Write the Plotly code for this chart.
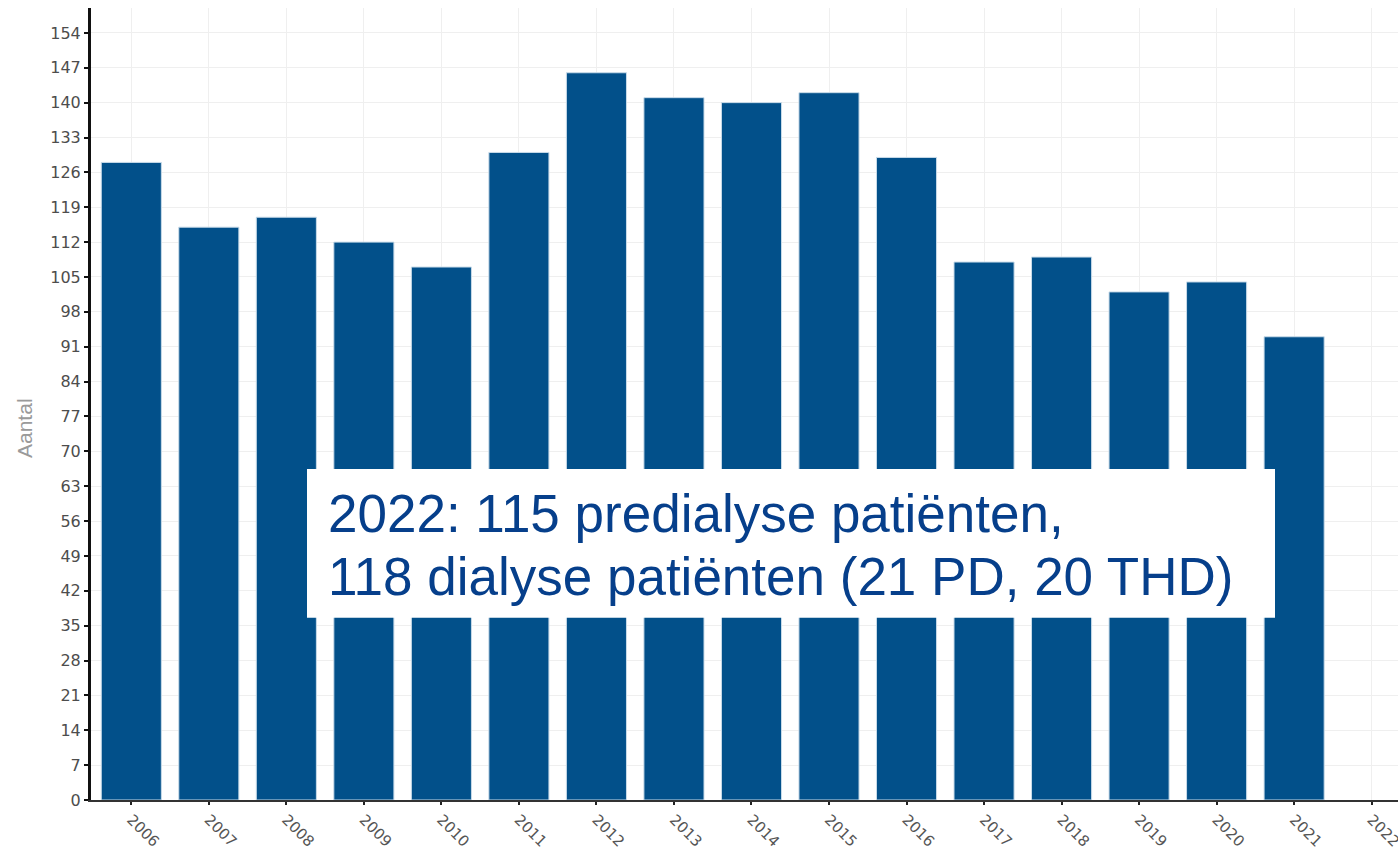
import plotly.graph_objects as go

years = [str(y) for y in range(2006, 2023)]
counts = [128, 115, 117, 112, 107, 130, 146, 141, 140, 142, 129, 108, 109, 102, 104, 93, None]
y_ticks = list(range(0, 155, 7))
note_line1 = "2022: 115 predialyse patiënten,"
note_line2 = "118 dialyse patiënten (21 PD, 20 THD)"
y_title = "Aantal"

W, H = 1398, 852
ML, MR, MT, MB = 91, 0, 8, 52
PW, PH = W - ML - MR, H - MT - MB

def px_x(x):
    return (x - ML) / PW

def px_y(y):
    return (H - MB - y) / PH

fig = go.Figure()
fig.add_trace(go.Bar(
    x=years, y=counts,
    marker=dict(color="#02508a", line=dict(color="#c9dbe9", width=1)),
    showlegend=False,
))

fig.update_layout(
    template="none",
    width=W, height=H,
    margin=dict(l=ML, r=MR, t=MT, b=MB, pad=0),
    paper_bgcolor="white", plot_bgcolor="white",
    bargap=0.225,
    font=dict(family="DejaVu Sans", size=16, color="#4d4d4d"),
)
fig.update_xaxes(
    type="category", range=[-0.52, 16.34], automargin=False,
    tickangle=45, tickfont=dict(size=15, color="#555555"),
    showgrid=True, gridcolor="#efefef", gridwidth=1,
    showline=True, linecolor="#333333", linewidth=2,
    ticks="outside", ticklen=3, tickwidth=2, tickcolor="#222222",
    zeroline=False,
)
fig.update_yaxes(
    range=[0, 159], tickvals=y_ticks, automargin=False,
    tickfont=dict(size=16, color="#4d4d4d"),
    showgrid=True, gridcolor="#efefef", gridwidth=1,
    showline=True, linecolor="#111111", linewidth=3,
    ticks="outside", ticklen=4, tickwidth=2, tickcolor="#111111",
    zeroline=False,
)

fig.add_annotation(
    xref="paper", yref="paper", x=px_x(24), y=px_y(428),
    text=y_title, textangle=-90, showarrow=False,
    font=dict(family="Liberation Sans, Arial", size=21, color="#9a9a9a"),
    xanchor="center", yanchor="middle",
)

fig.add_shape(
    type="rect", xref="paper", yref="paper",
    x0=px_x(307), x1=px_x(1275), y0=px_y(617.7), y1=px_y(469),
    fillcolor="white", line=dict(width=0), layer="above",
)
for txt, cy in [(note_line1, 513.3), (note_line2, 576.6)]:
    fig.add_annotation(
        xref="paper", yref="paper", x=px_x(327), y=px_y(cy),
        text=txt, showarrow=False, align="left",
        xanchor="left", yanchor="middle", borderpad=0,
        font=dict(family="Liberation Sans, Arial", size=53, color="#063f8b"),
    )

fig.write_html("out.html")
